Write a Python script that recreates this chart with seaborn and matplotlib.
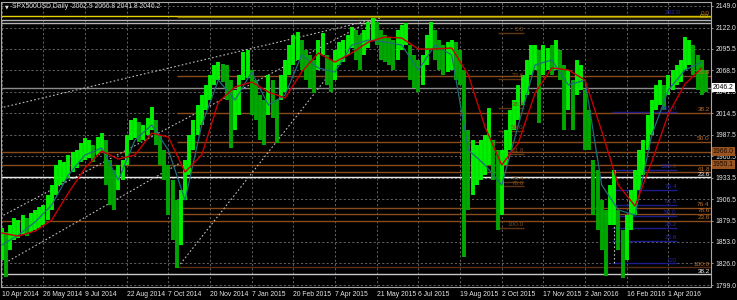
import numpy as np
import pandas as pd
import matplotlib
matplotlib.use("Agg")
import matplotlib.pyplot as plt
import matplotlib.transforms as mtransforms
import seaborn as sns

# ---------------- data ----------------
title_text = "SPX500USD,Daily  2062.9 2066.8 2041.8 2046.2"
date_labels = ["10 Apr 2014", "26 May 2014", "9 Jul 2014", "22 Aug 2014", "7 Oct 2014",
               "20 Nov 2014", "7 Jan 2015", "20 Feb 2015", "7 Apr 2015", "21 May 2015",
               "6 Jul 2015", "19 Aug 2015", "2 Oct 2015", "17 Nov 2015", "2 Jan 2016",
               "16 Feb 2016", "1 Apr 2016"]
label_every = 10  # bars between date labels

price_ticks = [2149.0, 2122.0, 2095.5, 2068.5, 2041.5, 2014.5, 1987.5, 1960.5,
               1933.5, 1906.5, 1879.5, 1853.0, 1826.0, 1799.0]

highs = [1870, 1865, 1874, 1883, 1880, 1887, 1883, 1889, 1893, 1897,
         1899, 1912, 1924, 1950, 1956, 1953, 1962, 1966, 1968, 1977,
         1983, 1981, 1975, 1985, 1990, 1981, 1956, 1943, 1950, 1956,
         1987, 2006, 2009, 2003, 2000, 2009, 2022, 2006, 1987, 1968,
         1950, 1931, 1906, 1918, 1956, 1987, 2006, 2025, 2037, 2050,
         2062, 2075, 2079, 2076, 2075, 2056, 2044, 2062, 2091, 2094,
         2069, 2056, 2037, 2031, 2062, 2056, 2031, 2062, 2081, 2100,
         2113, 2116, 2106, 2094, 2088, 2081, 2106, 2115, 2088, 2081,
         2094, 2104, 2106, 2113, 2123, 2119, 2113, 2119, 2129, 2134,
         2129, 2119, 2113, 2109, 2106, 2119, 2125, 2128, 2100, 2088,
         2081, 2088, 2113, 2129, 2119, 2106, 2100, 2104, 2106, 2104,
         2094, 2069, 1993, 1981, 1975, 1981, 1987, 2021, 1981, 1968,
         1968, 1993, 2019, 2031, 2050, 2062, 2081, 2100, 2100, 2094,
         2100, 2096, 2100, 2106, 2094, 2075, 2069, 2056, 2081, 2075,
         2044, 2019, 1956, 1943, 1906, 1893, 1924, 1943, 1893, 1868,
         1887, 1918, 1943, 1968, 1981, 2012, 2031, 2050, 2056, 2050,
         2062, 2069, 2075, 2081, 2110, 2106, 2100, 2088, 2081, 2069]
lows = [1830, 1809, 1843, 1855, 1858, 1862, 1860, 1865, 1868, 1870,
        1874, 1880, 1893, 1912, 1924, 1928, 1933, 1941, 1946, 1953,
        1956, 1958, 1953, 1962, 1966, 1924, 1899, 1893, 1918, 1931,
        1950, 1981, 1983, 1978, 1981, 1987, 1993, 1975, 1950, 1931,
        1887, 1855, 1820, 1849, 1906, 1937, 1968, 1987, 2000, 2019,
        2031, 2050, 2056, 2054, 2031, 1971, 1993, 2012, 2056, 2059,
        2012, 2006, 1981, 1975, 2012, 2009, 1977, 2031, 2041, 2062,
        2075, 2081, 2069, 2056, 2046, 2040, 2069, 2088, 2050, 2041,
        2056, 2075, 2079, 2088, 2096, 2081, 2069, 2088, 2096, 2106,
        2100, 2081, 2079, 2075, 2069, 2081, 2094, 2100, 2056, 2046,
        2041, 2050, 2075, 2094, 2081, 2069, 2062, 2066, 2069, 2056,
        2050, 1834, 1893, 1912, 1924, 1931, 1937, 1950, 1931, 1868,
        1887, 1950, 1968, 1993, 2006, 2025, 2037, 2062, 2069, 2002,
        2062, 2069, 2062, 2069, 2056, 1993, 2019, 1993, 2037, 2044,
        1968, 1968, 1887, 1868, 1843, 1810, 1874, 1874, 1843, 1808,
        1830, 1868, 1887, 1918, 1937, 1968, 1987, 2019, 2025, 2019,
        2037, 2044, 2050, 2054, 2069, 2075, 2062, 2044, 2037, 2041]

ma_step = 4  # moving averages sampled every 4 bars
ma_slow = [1864.2, 1860.4, 1866.7, 1880.5, 1914.4, 1945.7, 1967.1, 1957.0, 1962.1, 1989.6,
           1984.6, 1940.7, 1962.1, 2028.5, 2047.4, 2053.6, 2041.1, 2033.6, 2066.2, 2090.0,
           2078.7, 2090.0, 2103.8, 2110.1, 2108.8, 2095.0, 2095.0, 2096.3, 2062.4, 1997.2,
           1949.5, 1977.1, 2039.8, 2071.2, 2068.7, 2056.1, 1992.2, 1924.4, 1898.1, 1953.3,
           2013.5, 2051.1, 2071.2]
ma_fast = [1849.1, 1861.7, 1878.0, 1899.3, 1937.0, 1962.1, 1970.8, 1930.7, 1980.9, 1999.7,
           1968.3, 1905.6, 1999.7, 2056.1, 2031.0, 2066.2, 2024.8, 2037.3, 2087.5, 2071.2,
           2066.2, 2100.0, 2106.3, 2103.8, 2100.0, 2068.7, 2100.0, 2087.5, 1968.3, 1949.5,
           1924.4, 1999.7, 2075.0, 2081.2, 2049.9, 2056.1, 1924.4, 1893.1, 1886.8, 1987.1,
           2043.6, 2068.7, 2078.7]

# horizontal levels spanning the whole chart
full_levels = [2136.5, 2131.4, 2127.6, 2046.2, 1966.0, 1950.1, 1934.1, 1879.6, 1812.4]
# main fibonacci retracement (starts at the Oct 2014 low bar)
fib_main_start = 42
fib_main_levels = [2135.5, 2061.2, 2014.4, 1978.3, 1940.2, 1895.3, 1887.7, 1821.0]
fib_main_labels = ["0.0", "23.6", "38.2", "50.0", "61.8", "76.4", "78.6", "100.0"]
# second (short) fibonacci in Aug-Oct 2015
fib_mid_span = [119, 125.3]
fib_mid_levels = [2115.0, 2057.3, 2021.6, 1992.8, 1963.9, 1928.2, 1922.8, 1870.5]
fib_mid_labels = ["0.0", "23.6", "38.2", "50.0", "61.8", "76.4", "78.6", "100.0"]
# blue fibonacci expansion 2016
fib_blue_span = [146.5, 162.0]
fib_blue_levels = [2016.0, 1943.2, 1918.1, 1899.3, 1885.9, 1870.8, 1854.2, 1826.2]
fib_blue_labels = ["161.8", "100.0", "76.4", "61.8", "50.0", "38.2", "23.6", "0.0"]

# trend lines: (bar, price) anchors
trend_lines = [((-0.4, 2021.0), (90.8, 2133.9)),
               ((-0.4, 1884.3), (88.9, 2131.4)),
               ((0.8, 1826.6), (42.8, 1952.0)),
               ((42.3, 1821.5), (88.9, 2131.4))]

# ---------------- drawing ----------------
sns.set_style("dark")
plt.rcParams['font.family'] = ['Liberation Sans', 'DejaVu Sans']

W, H = 737, 300
TS = 4.9   # tick / title font size
fig = plt.figure(figsize=(W / 100, H / 100), dpi=100, facecolor='black')
ax = fig.add_axes([1 / W, 13 / H, 710 / W, 285 / H], facecolor='black')
ax.set_xlim(-0.17, 170.23)
ax.set_ylim(1796.5, 2154.0)

# grid
ax.set_xticks(np.arange(0, len(date_labels) * label_every, label_every))
ax.set_xticklabels(date_labels, ha='left')
ax.set_yticks(price_ticks)
ax.set_yticklabels([f"{v:.1f}" for v in price_ticks])
ax.yaxis.tick_right()
ax.tick_params(axis='both', colors='#B0B0B0', labelcolor='#E6E6E6', labelsize=TS,
               length=1.5, width=0.6, pad=1.5)
ax.tick_params(axis='x', pad=1.2)
ax.grid(True, color='#626262', linestyle=(0, (2.2, 2.2)), linewidth=0.7)
for s in ax.spines.values():
    s.set_color('#A8A8A8')
    s.set_linewidth(0.8)

# horizontal levels
full_colors = ['#E6D200', '#B4B4B4', '#B4B4B4', '#8C8C8C', '#8B4A1A', '#8B4A1A',
               '#E8E8E8', '#8B4A1A', '#C8C8C8']
ax.hlines(full_levels, -1, 171, colors=full_colors, linewidth=1.0, zorder=2)
main_colors = ['#8C7A00', '#8B4A1A', '#8B4A1A', '#8B4A1A', '#8B4A1A', '#8B4A1A', '#8B4A1A', '#5A2E10']
ax.hlines(fib_main_levels, fib_main_start, 171, colors=main_colors, linewidth=1.0, zorder=2)
ax.hlines(fib_mid_levels, fib_mid_span[0], fib_mid_span[1], colors='#5E3512', linewidth=1.0, zorder=2)
ax.hlines(fib_blue_levels, fib_blue_span[0], fib_blue_span[1], colors='#1C1C8C', linewidth=1.0, zorder=2)

# trend lines
for (x0, y0), (x1, y1) in trend_lines:
    ax.plot([x0, x1], [y0, y1], color='#BEBEBE', linewidth=0.8, linestyle=(0, (1.5, 2.0)), zorder=3)
ax.plot([119, 119], [fib_mid_levels[-1], 1957], color='#DADADA', lw=0.8, ls=(0, (1.5, 2)), zorder=3)
ax.plot([147, 147], [fib_blue_levels[-1], fib_blue_levels[1]], color='#BEBEBE', lw=0.8, ls=(0, (1.5, 2)), zorder=3)

# price bars
xb = np.arange(len(highs))
hi = np.array(highs, dtype=float)
lo = np.array(lows, dtype=float)
mid = (hi + lo) / 2
up = np.r_[True, np.diff(mid) >= 0]
ax.vlines(xb, lo, hi, colors=np.where(up, '#00F000', '#00A800'), linewidth=2.8, zorder=4)

# moving averages
ma_x = np.arange(len(ma_slow)) * ma_step
df_ma = pd.DataFrame({"bar": ma_x, "slow": ma_slow, "fast": ma_fast})
sns.lineplot(data=df_ma, x="bar", y="fast", ax=ax, color='#1F6E7A', linewidth=0.9, zorder=5)
sns.lineplot(data=df_ma, x="bar", y="slow", ax=ax, color='#C80000', linewidth=1.0, zorder=6)
ax.set_xlabel("")
ax.set_ylabel("")

# fib labels
fs = 4.6
for lv, lb in zip(fib_main_levels, fib_main_labels):
    ax.text(169.9, lv + 1.0, lb, color='#C0702A', fontsize=fs, ha='right', va='bottom', zorder=7)
ax.text(169.9, 1879.6 + 1.0, "23.6", color='#C0702A', fontsize=fs, ha='right', va='bottom', zorder=7)
ax.text(169.9, 1934.1 + 1.0, "23.6", color='#F0F0F0', fontsize=fs, ha='right', va='bottom', zorder=7)
ax.text(169.9, 1812.4 + 1.0, "38.2", color='#F0F0F0', fontsize=fs, ha='right', va='bottom', zorder=7)
ax.text(169.6, 2131.4 + 1.0, "0.0", color='#C8B400', fontsize=fs, ha='right', va='bottom', zorder=7)
for lv, lb in zip(fib_mid_levels, fib_mid_labels):
    ax.text(fib_mid_span[1], lv + 1.0, lb, color='#7A4A20', fontsize=fs, ha='right', va='bottom', zorder=7)
for lv, lb in zip(fib_blue_levels, fib_blue_labels):
    ax.text(fib_blue_span[1], lv + 1.0, lb, color='#2A2AA8', fontsize=fs, ha='right', va='bottom', zorder=7)
ax.text(fib_blue_span[1] + 1, 2136.5 + 1.0, "262.0", color='#2A2AA8', fontsize=fs, ha='right', va='bottom', zorder=7)

# price boxes on the right scale
trans = mtransforms.blended_transform_factory(ax.transAxes, ax.transData)
ax.text(1.0025, 2046.2, "2046.2", transform=trans, ha='left', va='center', fontsize=TS,
        color='black', bbox=dict(boxstyle='square,pad=0.15', fc='white', ec='none'),
        clip_on=False, zorder=10)
for lv, lb in [(1966.0, "1966.0"), (1950.1, "1950.1")]:
    ax.text(1.0025, lv, lb, transform=trans, ha='left', va='center', fontsize=TS,
            color='#1A0A00', bbox=dict(boxstyle='square,pad=0.15', fc='#9A5420', ec='none'),
            clip_on=False, zorder=10)

# title
fig.text(5 / W, 1 - 4 / H, "\u25BC", color='#E0E0E0', fontsize=3.5, ha='left', va='top',
         family=['DejaVu Sans'])
fig.text(12 / W, 1 - 3 / H, title_text, color='#D8D8D8', fontsize=TS, ha='left', va='top')

fig.savefig("out.png", dpi=100, facecolor='black')
